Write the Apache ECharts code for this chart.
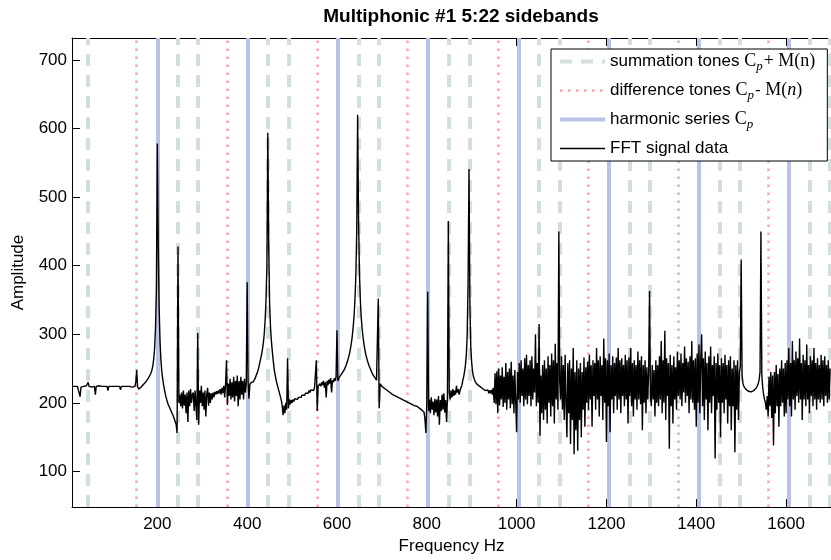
<!DOCTYPE html>
<html><head><meta charset="utf-8">
<script src="https://cdn.jsdelivr.net/npm/echarts@6/dist/echarts.min.js"></script>
<style>html,body{margin:0;padding:0;background:#fff}#c{width:831px;height:560px}</style>
</head><body><div id="c"></div>
<script>
const titleText = 'Multiphonic #1 5:22 sidebands';
const xAxisName = 'Frequency Hz';
const yAxisName = 'Amplitude';
const xTickValues = [200, 400, 600, 800, 1000, 1200, 1400, 1600];
const yTickValues = [100, 200, 300, 400, 500, 600, 700];

// reference tone lines (Hz)
const harmonicHz = [200, 401, 601.5, 803, 1004, 1205, 1406, 1606];
const summationHz = [44, 245, 291, 446, 492, 648, 694, 849, 895, 1050, 1096, 1251, 1297, 1452, 1497, 1652, 1697];
const differenceHz = [154, 355, 556, 757, 959, 1160, 1360, 1560];

// FFT amplitude, bins every 2 Hz starting at 10 Hz
const fftStartHz = 10;
const fftStepHz = 2;
const fft0010 = [224,224,225,224,224,225,224,224,223,209, 223,224,225,224,224,224,225,224,230,224, 224,224,223,224,224,224,212,224,224,224, 225,224,224,224,224,224,224,223,224,224, 218,224,224,224,224];
const fft0100 = [224,224,224,224,224,224,224,224,224,219, 224,224,224,224,224,224,224,224,224,224, 223,223,223,222,222,224,230,248,224,220, 221,222,223,224,226,227,229,230,232,234, 236,238,241,244,248,254,264,280,310,370];
const fft0200 = [578,430,340,290,262,245,235,226,219,212, 207,202,198,195,192,189,186,183,180,176, 172,168,156,428,200,212,195,215,192,218, 196,212,185,215,172,218,195,220,200,212, 215,188,218,195,175,302,168,218,200,225];
const fft0300 = [195,215,190,218,180,212,222,196,215,200, 214,205,215,208,216,212,217,213,218,214, 220,212,222,214,225,208,228,262,197,228, 210,235,205,230,208,238,202,232,210,240, 195,232,205,238,212,232,205,235,215,228];
const fft0400 = [376,232,206,226,229,228,230,231,233,236, 240,243,247,252,258,264,270,278,287,300, 320,350,400,594,430,345,310,290,275,262, 250,242,235,229,224,219,214,209,204,196, 182,196,185,200,190,265,192,205,198,204];
const fft0500 = [200,205,202,206,204,207,205,208,206,210, 208,211,209,213,211,214,212,216,214,218, 215,219,217,220,218,222,220,262,188,224, 222,228,224,230,226,232,222,230,208,232, 226,234,228,236,215,233,230,236,232,238];
const fft0600 = [306,232,236,238,240,242,244,246,248,251, 254,258,262,267,272,279,287,297,310,326, 350,385,450,620,470,390,350,325,308,296, 286,278,271,266,261,257,253,250,247,244, 241,239,237,235,233,231,352,192,228,226];
const fft0700 = [224,223,222,221,220,219,218,217,216,215, 214,213,212,211,210,210,209,208,208,207, 207,206,205,205,204,203,203,202,201,201, 200,199,199,198,198,197,196,196,194,195, 194,193,192,191,190,189,188,186,175,156];
const fft0800 = [200,362,188,205,185,208,190,202,182,206, 186,205,180,210,168,204,188,212,190,214, 186,204,172,206,465,215,205,218,208,220, 210,218,212,225,215,220,212,218,222,225, 232,238,245,255,270,300,380,541,340,280];
const fft0900 = [258,245,238,234,231,229,227,226,225,224, 223,222,221,220,219,218,220,216,219,214, 218,214,219,212,222,200,243,198,246,185, 250,196,240,205,252,194,238,200,258,190, 245,205,250,192,260,198,240,185,248,200];
const fft1000 = [157,245,205,258,200,262,210,250,195,265, 205,270,198,255,210,262,195,268,205,250, 215,300,195,258,200,315,152,240,185,255, 175,262,190,250,170,268,200,255,180,272, 195,262,170,286,205,258,190,450,230,205];
const fft1100 = [268,190,255,175,270,200,150,258,185,262, 140,250,175,280,125,245,160,262,130,250, 175,258,150,245,190,266,165,252,200,260, 190,270,205,255,165,262,210,258,190,280, 205,262,180,268,210,255,175,294,200,265];
const fft1200 = [143,262,195,272,157,255,205,268,185,258, 210,266,190,280,205,262,185,265,210,255, 195,270,205,262,170,266,210,280,195,258, 180,262,205,255,190,275,205,262,198,268, 160,255,200,262,185,252,205,245,363,210];
const fft1300 = [195,255,205,248,180,262,200,255,195,268, 205,290,185,262,200,305,175,265,210,258, 133,270,195,255,170,268,205,252,190,275, 210,262,205,272,195,258,215,282,200,265, 210,260,185,268,205,290,200,262,190,265];
const fft1400 = [165,272,200,285,185,262,300,195,265,175, 275,205,258,160,268,200,282,185,255,210, 268,119,258,190,272,200,255,150,265,200, 258,185,270,205,255,170,262,195,268,160, 250,195,262,128,255,190,262,175,245,252];
const fft1500 = [409,240,228,224,222,220,219,218,217,217, 216,216,217,217,218,219,220,222,225,228, 234,245,450,240,222,212,205,200,190,210, 180,238,195,245,178,240,138,245,185,255, 195,242,165,250,195,262,200,250,180,258];
const fft1600 = [185,262,205,280,195,258,180,290,205,262, 190,275,210,265,200,294,205,258,175,270, 205,262,195,285,205,255,185,268,210,262, 195,280,205,258,190,265,205,255,200,270, 205,262,195,268,210,255,200,262,205,250];

const legendLabels = {
  summation: '{t|summation tones }{c|C}{s|p}{c|+ M(n)}',
  difference: '{t|difference tones }{c|C}{s|p}{t|- }{c|M(}{ci|n}{c|)}',
  harmonic: '{t|harmonic series }{c|C}{s|p}',
  fft: '{t|FFT signal data}'
};

const colSum = '#d3dfd9', colDiff = '#f5a8a8', colHarm = '#bac2e7';
const sansFont = '"Liberation Sans", Arial, Helvetica, sans-serif';
const serifFont = '"Liberation Serif", "Times New Roman", serif';

const fftAmp = [].concat(fft0010, fft0100, fft0200, fft0300, fft0400, fft0500, fft0600, fft0700,
  fft0800, fft0900, fft1000, fft1100, fft1200, fft1300, fft1400, fft1500, fft1600);
const fftData = fftAmp.map((a, i) => [fftStartHz + i * fftStepHz, a]);

function vLines(values) { return values.map(v => ({ xAxis: v })); }
function toneSeries(name, values, style) {
  return {
    name: name, type: 'line', data: [], symbol: 'none', showSymbol: false, z: 1,
    lineStyle: style, itemStyle: { color: style.color },
    markLine: {
      z: 1, silent: true, symbol: ['none', 'none'], label: { show: false },
      lineStyle: style, emphasis: { disabled: true }, animation: false,
      data: vLines(values)
    }
  };
}

const chart = echarts.init(document.getElementById('c'), null, { renderer: 'canvas' });
const txt = { fontFamily: sansFont, fontSize: 17, color: '#000' };
chart.setOption({
  animation: false,
  backgroundColor: '#fff',
  title: {
    text: titleText, left: 456, top: 2, textAlign: 'center',
    textStyle: { fontFamily: sansFont, fontSize: 19, fontWeight: 'bold', color: '#000' }
  },
  grid: { left: 72, top: 38, bottom: 48, right: -10, containLabel: false },
  xAxis: [{
    type: 'value', min: 10, max: 1700, position: 'bottom',
    axisLine: { show: true, onZero: false, lineStyle: { color: '#000', width: 1 } },
    axisTick: { show: true, inside: true, length: 8, customValues: xTickValues, lineStyle: { color: '#000' } },
    axisLabel: Object.assign({ customValues: xTickValues, margin: 9, formatter: v => String(v) }, txt),
    splitLine: { show: false },
    name: xAxisName, nameLocation: 'middle', nameGap: 30, nameTextStyle: txt
  }, {
    type: 'value', min: 10, max: 1700, position: 'top',
    axisLine: { show: true, onZero: false, lineStyle: { color: '#000', width: 1 } },
    axisTick: { show: true, inside: true, length: 8, customValues: xTickValues, lineStyle: { color: '#000' } },
    axisLabel: { show: false }, splitLine: { show: false }
  }],
  yAxis: {
    type: 'value', min: 48, max: 732,
    axisLine: { show: true, onZero: false, lineStyle: { color: '#000', width: 1 } },
    axisTick: { show: true, inside: true, length: 8, customValues: yTickValues, lineStyle: { color: '#000' } },
    axisLabel: Object.assign({ customValues: yTickValues, margin: 5, formatter: v => String(v) }, txt),
    splitLine: { show: false },
    name: yAxisName, nameLocation: 'middle', nameGap: 45, nameRotate: 90, nameTextStyle: txt
  },
  legend: {
    orient: 'vertical', left: 551, top: 49, z: 10,
    itemWidth: 45, itemHeight: 25, itemGap: 4,
    padding: [0, 12, 0, 7],
    backgroundColor: '#fff', borderColor: '#000', borderWidth: 1, borderRadius: 0,
    selectedMode: false,
    data: ['summation', 'difference', 'harmonic', 'fft'],
    lineStyle: { width: 'inherit' },
    itemStyle: { opacity: 0 },
    formatter: name => legendLabels[name],
    textStyle: {
      fontFamily: sansFont, fontSize: 17, color: '#000', lineHeight: 25,
      rich: {
        t: { fontFamily: sansFont, fontSize: 17, color: '#000', lineHeight: 25 },
        c: { fontFamily: serifFont, fontSize: 18, color: '#000', lineHeight: 25 },
        ci: { fontFamily: serifFont, fontSize: 18, fontStyle: 'italic', color: '#000', lineHeight: 25 },
        s: { fontFamily: serifFont, fontSize: 13, fontStyle: 'italic', color: '#000', lineHeight: 25, padding: [11, 1, 0, 0] }
      }
    }
  },
  series: [
    toneSeries('summation', summationHz, { color: colSum, width: 4, type: [12, 9] }),
    toneSeries('difference', differenceHz, { color: colDiff, width: 2.5, type: [2.5, 5.5] }),
    toneSeries('harmonic', harmonicHz, { color: colHarm, width: 4, type: 'solid' }),
    {
      name: 'fft', type: 'line', data: fftData, symbol: 'none', showSymbol: false, z: 3,
      lineStyle: { color: '#000', width: 1.4 }, itemStyle: { color: '#000' },
      emphasis: { disabled: true }, silent: true
    }
  ]
});
</script>
</body></html>
